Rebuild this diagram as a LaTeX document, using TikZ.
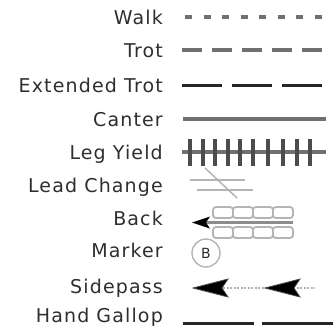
\documentclass[tikz,border=0pt]{standalone}
\usepackage{fontspec}
\setmainfont{DejaVu Sans}
\newfontfamily\gaitfont[LetterSpace=6]{DejaVu Sans}
\usetikzlibrary{arrows.meta,positioning,calc}
\definecolor{ink}{HTML}{2E2E2E}
\definecolor{midgray}{HTML}{707070}
\definecolor{softgray}{HTML}{B4B4B4}
\tikzset{
  gait/.style={anchor=base east,font=\gaitfont\fontsize{19}{21}\selectfont,text=ink,inner sep=0pt},
  walkline/.style={midgray,line width=4pt,dash pattern=on 7pt off 11.5pt},
  trotline/.style={midgray,line width=3.5pt,dash pattern=on 20pt off 10pt},
  extline/.style={black!85,line width=3pt,dash pattern=on 40pt off 10pt},
  solidline/.style={midgray,line width=4pt},
  tick/.style={black!70,line width=3.5pt},
  thinline/.style={softgray,line width=1.5pt},
  loopbox/.style={softgray,line width=1.8pt,rounded corners=3pt},
  sidehead/.style={fill=black,draw=black!70,line width=0.8pt,line join=miter}
}

\begin{document}
\begin{tikzpicture}[x=1pt,y=-1pt]
    \useasboundingbox (0,0) rectangle (333,327);
    % labels (baselines)
    \node[gait] (walk) at (163,24) {Walk};
    \node[gait] (trot) at (163,57) {Trot};
    \node[gait] (ext) at (163,92) {Extended Trot};
    \node[gait] (canter) at (163,126) {Canter};
    \node[gait] (leg) at (163,159) {Leg Yield};
    \node[gait] (lead) at (163,192) {Lead Change};
    \node[gait] (back) at (163,225) {Back};
    \node[gait] (marker) at (163,257) {Marker};
    \node[gait] (side) at (163,293) {Sidepass};
    \node[gait] (hand) at (163,322) {Hand Gallop};
    % walk, trot, extended trot, canter
    \draw[walkline] (185,17) -- (333,17);
    \draw[trotline] (182,50) -- (324,50);
    \draw[extline] (182,85) -- (326,85);
    \draw[solidline] (183,119) -- (326,119);
    % leg yield
    \draw[solidline,line width=3.5pt] (182,152) -- (326,152);
    \foreach \x in {190,203,215,228,240,253,268,283,297,310}
      \draw[tick] (\x,139) -- (\x,166);
    % lead change
    \draw[thinline] (190,180) -- (245,180);
    \draw[thinline] (197,190) -- (253,190);
    \draw[thinline] (205,168) -- (237,198);
    % back
    \foreach \x in {213,233,253,273} {
      \draw[loopbox] (\x,207) rectangle ++(20,11);
      \draw[loopbox] (\x,227) rectangle ++(20,11);
    }
    \draw[midgray!80,line width=3pt] (206,222.5) -- (293,222.5);
    \fill[black] (192,222.5) -- (210,216.5) -- (206,222.5) -- (210,228.5) -- cycle;
    % marker
    \draw[softgray,line width=1.4pt] (206,253) circle (14);
    \node[font=\fontsize{14}{16}\selectfont,text=ink,inner sep=0pt] (mark) at (206,253) {B};
    % sidepass
    \draw[softgray,line width=1.8pt,dash pattern=on 2pt off 1.5pt] (195,288) -- (315,288);
    \foreach \x in {193,265}
      \filldraw[sidehead] (\x,288) -- ++(35,-9) -- ++(-6,9) -- ++(6,9) -- cycle;
    % hand gallop
    \draw[black!85,line width=3pt] (183,323) -- (254,323);
    \draw[black!85,line width=3pt] (262,323) -- (333,323);
\end{tikzpicture}
\end{document}
